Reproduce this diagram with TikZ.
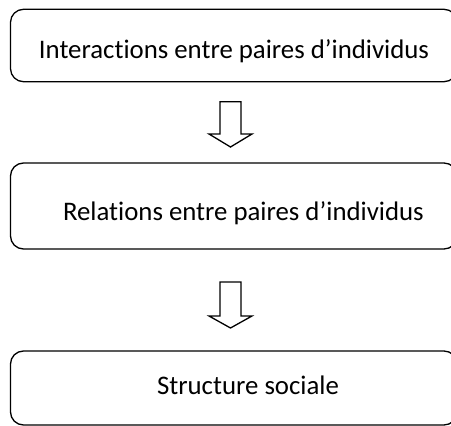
\documentclass[tikz,border=0pt]{standalone}
\usepackage{fontspec}
\setmainfont{Carlito}[RawFeature={-liga}]
\begin{document}
\begin{tikzpicture}[x=1pt,y=-1pt,
  box/.style={draw=black,line width=1.3pt,rounded corners=13pt},
  lbl/.style={anchor=base,inner sep=0pt,font=\fontsize{26.8}{31}\selectfont},
  blockarrow/.style={draw=black,line width=1.3pt,fill=white,line join=miter}]
\useasboundingbox (0,0) rectangle (451,426);
\clip (0,0) rectangle (451,426);
\draw[box] (10.5,9.3) rectangle (457,81.7);
\node[lbl] (t1) at (234,58.3) {Interactions entre paires d’individus};
\draw[box] (10.5,163) rectangle (457,249);
\node[lbl] (t2) at (243.4,220.7) {Relations entre paires d’individus};
\draw[box] (10.5,351) rectangle (457,425);
\node[lbl] (t3) at (248,394) {Structure sociale};
\draw[blockarrow] (220,101.7) -- (241,101.7) -- (241,134) -- (252,134) -- (230.5,147) -- (209,134) -- (220,134) -- cycle;
\draw[blockarrow] (220,282) -- (241,282) -- (241,316) -- (252,316) -- (230.5,328) -- (209,316) -- (220,316) -- cycle;
\end{tikzpicture}
\end{document}
